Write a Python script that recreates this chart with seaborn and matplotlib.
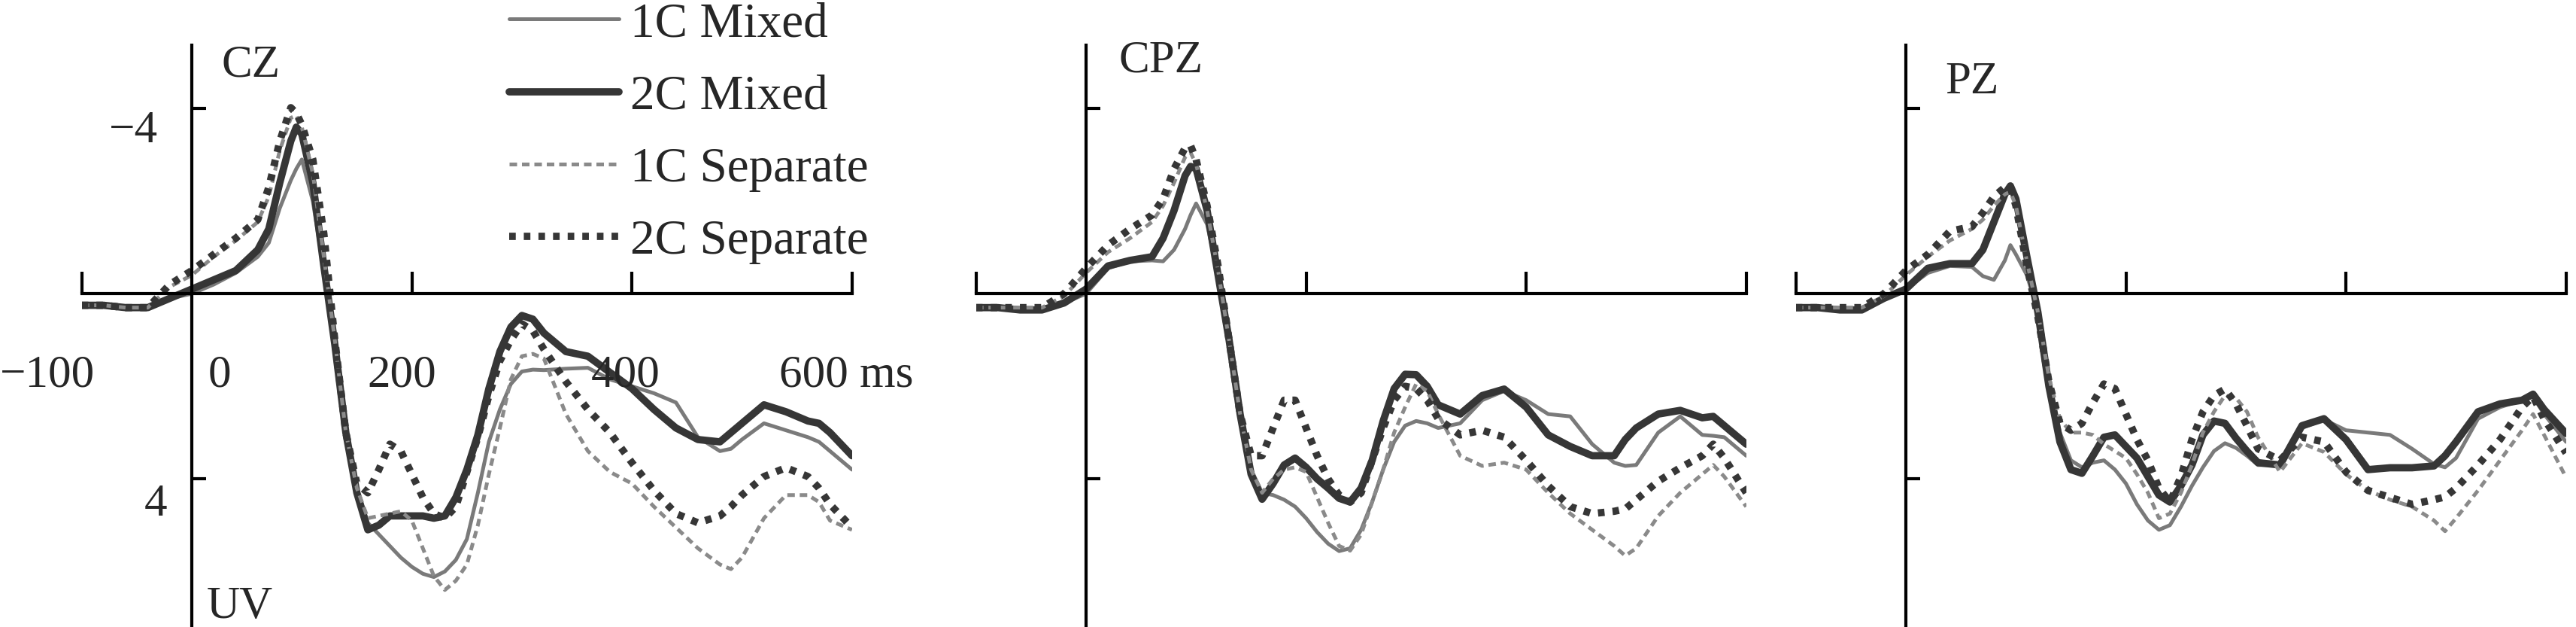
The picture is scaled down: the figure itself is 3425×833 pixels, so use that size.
import matplotlib
matplotlib.use("Agg")
import matplotlib.pyplot as plt
import pandas as pd
import seaborn as sns

# time axis in ms (shared by all curves)
time_ms = [-100, -80, -60, -40, -20, 0, 20, 40, 60, 70, 80, 90, 95, 100, 110,
           120, 130, 140, 150, 160, 170, 180, 190, 200, 210, 220, 230, 240, 250,
           260, 270, 280, 290, 300, 310, 320, 340, 360, 380, 400, 420, 440, 460,
           480, 490, 500, 520, 540, 560, 570, 580, 600]

# amplitudes in uV (negative up)
cz_1c_mixed = [0.25, 0.25, 0.3, 0.3, 0.1, 0.0, -0.2, -0.45, -0.8,
               -1.1, -1.85, -2.45, -2.7, -2.9, -2.0,
               -0.5, 1.1, 3.0, 4.2, 4.95, 5.2, 5.45, 5.7, 5.9, 6.05, 6.12, 6.0, 5.75, 5.3,
               4.3, 3.2, 2.5, 1.95, 1.68, 1.64, 1.65,
               1.62, 1.6, 1.85, 2.0, 2.15, 2.35, 3.1, 3.4,
               3.35, 3.15, 2.8, 2.95, 3.1, 3.2, 3.4, 3.8]
cz_2c_mixed = [0.25, 0.25, 0.3, 0.3, 0.1, -0.1, -0.3, -0.5, -0.95,
               -1.4, -2.4, -3.3, -3.6, -3.45, -2.4,
               -0.6, 1.1, 3.0, 4.3, 5.1, 5.0, 4.8, 4.8, 4.8, 4.8, 4.85, 4.8, 4.4, 3.8,
               3.05, 2.05, 1.25, 0.72, 0.47, 0.55, 0.85,
               1.25, 1.35, 1.7, 2.05, 2.5, 2.9, 3.15, 3.2,
               3.0, 2.8, 2.4, 2.55, 2.75, 2.8, 3.0, 3.5]
cz_1c_separate = [0.25, 0.25, 0.3, 0.3, -0.15, -0.4, -0.8, -1.15, -1.55,
                  -2.1, -3.1, -3.8, -3.85, -3.6, -2.6,
                  -0.8, 1.0, 3.0, 4.2, 4.85, 4.8, 4.75, 4.7, 4.9, 5.5, 6.1, 6.4, 6.2, 5.85,
                  5.0, 3.9, 2.9, 1.85, 1.35, 1.3, 1.4,
                  2.6, 3.4, 3.85, 4.1, 4.6, 5.05, 5.5, 5.85,
                  5.95, 5.7, 4.85, 4.35, 4.35, 4.5, 4.9, 5.1]
cz_2c_separate = [0.25, 0.25, 0.3, 0.3, -0.2, -0.5, -0.85, -1.2, -1.6,
                  -2.3, -3.3, -4.02, -3.9, -3.65, -2.9,
                  -1.3, 1.0, 3.0, 4.1, 4.3, 3.8, 3.25, 3.4, 3.9, 4.4, 4.75, 4.85, 4.6, 3.85,
                  3.1, 2.2, 1.45, 1.0, 0.65, 0.8, 1.2,
                  1.9, 2.5, 3.0, 3.65, 4.25, 4.75, 4.95, 4.8,
                  4.6, 4.35, 3.95, 3.76, 3.95, 4.2, 4.55, 5.05]

cpz_1c_mixed = [0.3, 0.3, 0.35, 0.35, 0.2, 0.0, -0.55, -0.7, -0.72,
                -0.7, -0.95, -1.4, -1.7, -1.95, -1.5,
                -0.4, 1.0, 2.6, 3.8, 4.3, 4.35, 4.45, 4.6, 4.85, 5.15, 5.4, 5.56, 5.5, 5.1,
                4.5, 3.8, 3.2, 2.85, 2.75, 2.8, 2.9,
                2.8, 2.3, 2.1, 2.3, 2.6, 2.65, 3.25, 3.65,
                3.72, 3.7, 3.0, 2.65, 3.05, 3.07, 3.1, 3.5]
cpz_2c_mixed = [0.3, 0.3, 0.35, 0.35, 0.2, -0.1, -0.6, -0.72, -0.8,
                -1.2, -1.8, -2.55, -2.75, -2.7, -1.8,
                -0.4, 1.0, 2.6, 3.9, 4.44, 4.1, 3.7, 3.55, 3.75, 4.0, 4.2, 4.42, 4.5, 4.2,
                3.6, 2.75, 2.05, 1.74, 1.75, 2.0, 2.4,
                2.6, 2.2, 2.06, 2.45, 3.05, 3.3, 3.5, 3.5,
                3.15, 2.9, 2.6, 2.52, 2.68, 2.65, 2.85, 3.25]
cpz_1c_separate = [0.3, 0.3, 0.3, 0.3, 0.05, -0.45, -0.9, -1.2, -1.55,
                   -1.9, -2.4, -2.95, -3.05, -2.8, -1.8,
                   -0.5, 1.0, 2.6, 3.8, 4.3, 4.0, 3.8, 3.75, 3.85, 4.4, 4.95, 5.45, 5.55, 5.2,
                   4.5, 3.8, 3.0, 2.45, 1.95, 2.1, 2.6,
                   3.5, 3.72, 3.65, 3.8, 4.3, 4.75, 5.1, 5.45,
                   5.66, 5.5, 4.8, 4.3, 3.9, 3.7, 3.95, 4.6]
cpz_2c_separate = [0.3, 0.3, 0.3, 0.3, 0.0, -0.55, -1.05, -1.4, -1.7,
                   -2.05, -2.7, -3.15, -3.2, -2.9, -1.9,
                   -0.6, 1.0, 2.6, 3.5, 3.5, 2.9, 2.3, 2.3, 2.9, 3.5, 4.0, 4.35, 4.5, 4.3,
                   3.6, 2.9, 2.3, 2.0, 2.05, 2.3, 2.7,
                   3.05, 2.95, 3.1, 3.6, 4.15, 4.6, 4.75, 4.7,
                   4.65, 4.45, 4.05, 3.76, 3.5, 3.25, 3.55, 4.3]

pz_1c_mixed = [0.3, 0.3, 0.35, 0.35, 0.1, -0.1, -0.45, -0.6, -0.58,
               -0.38, -0.3, -0.72, -1.05, -0.85, -0.4,
               0.4, 1.9, 3.0, 3.6, 3.75, 3.65, 3.6, 3.8, 4.1, 4.55, 4.9, 5.1, 5.0, 4.6,
               4.15, 3.75, 3.4, 3.23, 3.33, 3.5, 3.7,
               3.7, 2.9, 2.72, 2.95, 3.0, 3.05, 3.35, 3.68,
               3.75, 3.55, 2.7, 2.45, 2.3, 2.22, 2.6, 3.2]
pz_2c_mixed = [0.3, 0.3, 0.35, 0.35, 0.1, -0.1, -0.55, -0.65, -0.65,
               -0.95, -1.55, -2.15, -2.33, -2.05, -0.8,
               0.4, 2.0, 3.2, 3.8, 3.88, 3.5, 3.1, 3.05, 3.3, 3.55, 3.95, 4.35, 4.5, 4.15,
               3.7, 3.05, 2.75, 2.8, 3.12, 3.4, 3.65,
               3.7, 2.85, 2.7, 3.15, 3.8, 3.76, 3.76, 3.72,
               3.5, 3.2, 2.55, 2.38, 2.3, 2.17, 2.5, 3.02]
pz_1c_separate = [0.3, 0.3, 0.3, 0.3, 0.05, -0.4, -0.8, -1.15, -1.4,
                  -1.6, -1.9, -2.15, -2.2, -1.9, -0.7,
                  0.4, 1.8, 2.7, 3.0, 3.0, 3.05, 3.25, 3.4, 3.55, 3.9, 4.3, 4.85, 4.75, 4.3,
                  3.7, 3.0, 2.55, 2.2, 2.25, 2.55, 3.1,
                  3.85, 3.23, 3.42, 3.9, 4.25, 4.45, 4.6, 4.9,
                  5.13, 4.85, 4.25, 3.6, 2.95, 2.6, 3.05, 3.97]
pz_2c_separate = [0.3, 0.3, 0.3, 0.3, 0.0, -0.5, -0.85, -1.35, -1.45,
                  -1.75, -2.1, -2.3, -2.3, -1.9, -0.6,
                  0.5, 1.9, 2.8, 2.95, 2.8, 2.35, 1.95, 2.05, 2.6, 3.15, 3.6, 4.2, 4.5, 3.95,
                  3.15, 2.55, 2.2, 2.06, 2.38, 2.85, 3.35,
                  3.6, 3.1, 3.2, 3.85, 4.25, 4.4, 4.55, 4.45,
                  4.39, 4.2, 3.7, 3.15, 2.45, 2.22, 2.7, 3.44]

conditions = ["1C Mixed", "2C Mixed", "1C Separate", "2C Separate"]
channels = ["CZ", "CPZ", "PZ"]
series = {
    "CZ": [cz_1c_mixed, cz_2c_mixed, cz_1c_separate, cz_2c_separate],
    "CPZ": [cpz_1c_mixed, cpz_2c_mixed, cpz_1c_separate, cpz_2c_separate],
    "PZ": [pz_1c_mixed, pz_2c_mixed, pz_1c_separate, pz_2c_separate],
}

rows = []
for ch in channels:
    for cond, vals in zip(conditions, series[ch]):
        for t, v in zip(time_ms, vals):
            rows.append((ch, cond, t, v))
df = pd.DataFrame(rows, columns=["channel", "condition", "time", "amp"])

sns.set_theme(style="white")
plt.rcParams["font.family"] = ["Liberation Serif", "DejaVu Serif"]

palette = {"1C Mixed": "#7a7a7a", "2C Mixed": "#363636",
           "1C Separate": "#8a8a8a", "2C Separate": "#363636"}
sizes = {"1C Mixed": 3.6, "2C Mixed": 7.0, "1C Separate": 3.6, "2C Separate": 7.0}
dashes = {"1C Mixed": "", "2C Mixed": "", "1C Separate": (2.0, 1.3), "2C Separate": (0.9, 1.1)}

W, H = 3425, 833
fig = plt.figure(figsize=(W / 100, H / 100), dpi=100)
px_per_ms = 1.463
zero_px = {"CZ": 255, "CPZ": 1444, "PZ": 2534}
top_px = 60
fs = 44
fs_leg = 47

axes = {}
for i, ch in enumerate(channels):
    left = zero_px[ch] - 100 * px_per_ms
    ax = fig.add_axes([left / W, 0, 700 * px_per_ms / W, (H - top_px) / H])
    axes[ch] = ax
    sns.lineplot(data=df[df.channel == ch], x="time", y="amp",
                 hue="condition", size="condition", style="condition",
                 hue_order=conditions, size_order=conditions, style_order=conditions,
                 palette=palette, sizes=sizes, dashes=dashes,
                 errorbar=None, legend=(i == 0), ax=ax)
    ax.set_xlim(-100, 600)
    ax.set_ylim(7.2, -5.37)
    ax.set_facecolor("none")
    for s in ["top", "right"]:
        ax.spines[s].set_visible(False)
    ax.spines["left"].set_position(("data", 0))
    ax.spines["bottom"].set_position(("data", 0))
    for s in ["left", "bottom"]:
        ax.spines[s].set_color("black")
        ax.spines[s].set_linewidth(3)
    ax.set_xticks([-100, 200, 400, 600])
    ax.set_yticks([-4, 4])
    ax.tick_params(axis="x", direction="in", length=21, width=3, color="black",
                   labelbottom=False, bottom=True)
    ax.tick_params(axis="y", direction="in", length=14, width=3, color="black",
                   labelleft=False, left=True)
    ax.set_xlabel("")
    ax.set_ylabel("")

# channel names
axes["CZ"].text(27, -4.7, "CZ", fontsize=fs, ha="left", va="baseline")
axes["CPZ"].text(30, -4.8, "CPZ", fontsize=fs, ha="left", va="baseline")
axes["PZ"].text(36, -4.33, "PZ", fontsize=fs, ha="left", va="baseline")

# tick labels of the first panel
ax1 = axes["CZ"]
ax1.text(-88, 2.0, "\u2212100", fontsize=fs, ha="right", va="baseline")
ax1.text(25, 2.0, "0", fontsize=fs, ha="center", va="baseline")
ax1.text(191, 2.0, "200", fontsize=fs, ha="center", va="baseline")
ax1.text(394, 2.0, "400", fontsize=fs, ha="center", va="baseline")
ax1.text(534, 2.0, "600 ms", fontsize=fs, ha="left", va="baseline")
ax1.text(-30.8, -3.28, "\u22124", fontsize=fs, ha="right", va="baseline")
ax1.text(-22.6, 4.8, "4", fontsize=fs, ha="right", va="baseline")
ax1.text(13.7, 7.0, "UV", fontsize=fs, ha="left", va="baseline")

sns.move_legend(ax1, "upper left", bbox_to_anchor=(677 / W, 0.997),
                bbox_transform=fig.transFigure, title=None, frameon=False,
                fontsize=fs_leg, handlelength=2.24, handletextpad=0.23,
                labelspacing=0.56, borderpad=0, borderaxespad=0)

fig.savefig("out.png", dpi=100)
